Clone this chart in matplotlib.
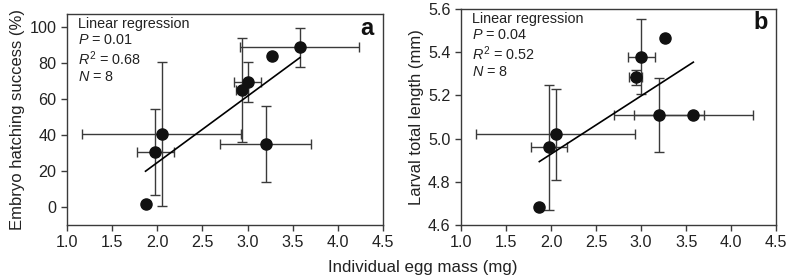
import matplotlib
matplotlib.use("Agg")
import matplotlib.pyplot as plt
import numpy as np

plt.rcParams["font.family"] = ["Liberation Sans", "DejaVu Sans"]
plt.rcParams["mathtext.fontset"] = "custom"
plt.rcParams["mathtext.rm"] = "Liberation Sans"
plt.rcParams["mathtext.it"] = "Liberation Sans:italic"

# egg mass (mg), shared by both panels
egg_mass = [1.87, 1.98, 2.05, 2.94, 3.00, 3.27, 3.58, 3.20]
egg_mass_err = [0.0, 0.20, 0.88, 0.07, 0.15, 0.0, 0.66, 0.50]

# panel a: embryo hatching success (%)
hatch = [1.5, 30.5, 40.5, 65.0, 69.5, 83.5, 88.5, 35.0]
hatch_err = [0.0, 24.0, 40.0, 29.0, 11.0, 0.0, 11.0, 21.0]

# panel b: larval total length (mm)
larval_len = [4.685, 4.96, 5.02, 5.285, 5.38, 5.465, 5.11, 5.11]
larval_len_err = [0.0, 0.29, 0.21, 0.035, 0.175, 0.0, 0.0, 0.17]

stats_a = ["0.01", "0.68", "8"]
stats_b = ["0.04", "0.52", "8"]

x_ticks = [1.0, 1.5, 2.0, 2.5, 3.0, 3.5, 4.0, 4.5]

fig = plt.figure(figsize=(7.88, 2.77), dpi=100)
ax_a = fig.add_axes([0.085, 0.188, 0.401, 0.761])
ax_b = fig.add_axes([0.585, 0.188, 0.400, 0.779])

grey = "#3a3a3a"


def draw_panel(ax, y, yerr, stats, letter, ylabel, letter_xy):
    x = np.array(egg_mass)
    y = np.array(y)
    xe = np.array(egg_mass_err)
    ye = np.array(yerr)
    has_err = (xe > 0) | (ye > 0)
    ax.errorbar(x[has_err], y[has_err], xerr=xe[has_err], yerr=ye[has_err],
                fmt="none", ecolor=grey, elinewidth=1.0, capsize=3.5,
                capthick=1.0, zorder=2)
    slope, intercept = np.polyfit(x, y, 1)
    xs = np.array([x.min(), x.max()])
    ax.plot(xs, slope * xs + intercept, color="black", lw=1.2, zorder=3)
    ax.plot(x, y, "o", color="#111111", markersize=8, zorder=4)

    ax.set_xlim(1.0, 4.5)
    ax.set_xticks(x_ticks)
    ax.set_xticklabels([f"{t:.1f}" for t in x_ticks])
    for s in ax.spines.values():
        s.set_color(grey)
        s.set_linewidth(1.0)
    ax.tick_params(direction="out", length=4, width=1.0, color=grey,
                   labelsize=11.6, labelcolor="#222222", pad=3.5)
    ax.set_ylabel(ylabel, fontsize=12, color="#222222", labelpad=3)

    txt = ("Linear regression\n"
           f"$P$ = {stats[0]}\n"
           f"$R^2$ = {stats[1]}\n"
           f"$N$ = {stats[2]}")
    ax.text(0.035, 0.985, txt, transform=ax.transAxes, ha="left", va="top",
            fontsize=10.4, linespacing=1.15, color="#222222")
    ax.text(letter_xy[0], letter_xy[1], letter, transform=ax.transAxes,
            ha="right", va="top", fontsize=17, fontweight="bold",
            color="#111111")


draw_panel(ax_a, hatch, hatch_err, stats_a, "a",
           "Embryo hatching success (%)", (0.97, 0.985))
ax_a.set_ylim(-10, 107)
ax_a.set_yticks([0, 20, 40, 60, 80, 100])

draw_panel(ax_b, larval_len, larval_len_err, stats_b, "b",
           "Larval total length (mm)", (0.975, 0.99))
ax_b.set_ylim(4.6, 5.6)
ax_b.set_yticks([4.6, 4.8, 5.0, 5.2, 5.4, 5.6])
ax_b.set_yticklabels([f"{t:.1f}" for t in [4.6, 4.8, 5.0, 5.2, 5.4, 5.6]])

fig.text(0.537, 0.008, "Individual egg mass (mg)", ha="center", va="bottom",
         fontsize=12.2, color="#222222")

fig.savefig("out.png", dpi=100)
